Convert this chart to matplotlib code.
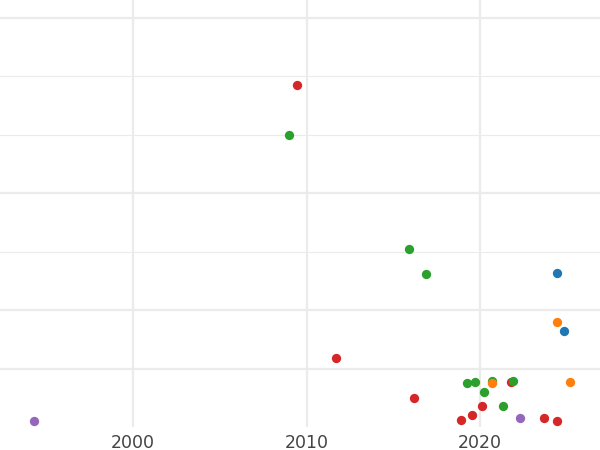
import matplotlib
matplotlib.use("Agg")
import matplotlib.pyplot as plt

purple_x = [1994.3, 2022.3]
purple_y = [0.10, 0.15]
red_x = [2009.45, 2011.7, 2016.2, 2018.9, 2019.5, 2020.1, 2021.8, 2023.7, 2024.4]
red_y = [5.85, 1.18, 0.50, 0.12, 0.21, 0.36, 0.77, 0.15, 0.10]
green_x = [2009.0, 2015.9, 2016.9, 2019.25, 2019.7, 2020.2, 2020.7, 2021.3, 2021.9]
green_y = [4.99, 3.04, 2.62, 0.75, 0.77, 0.60, 0.79, 0.36, 0.79]
orange_x = [2020.7, 2024.4, 2025.2]
orange_y = [0.75, 1.79, 0.77]
blue_x = [2024.4, 2024.8]
blue_y = [2.63, 1.64]

fig = plt.figure(figsize=(6, 4.5), dpi=100)
ax = fig.add_axes([0, 23/450, 1, 427/450])
ax.set_xlim(1992.33, 2026.9)
ax.set_ylim(0, 7.3)

for v in [2000, 2010, 2020]:
    ax.axvline(v, color='#ebebeb', lw=1.6, zorder=0)
for v in [1, 2, 4, 7]:
    ax.axhline(v, color='#ebebeb', lw=1.6, zorder=0)
for v in [3, 5, 6]:
    ax.axhline(v, color='#ebebeb', lw=0.8, zorder=0)

for xs, ys, c in [(purple_x, purple_y, '#9467bd'), (red_x, red_y, '#d62728'),
                  (green_x, green_y, '#2ca02c'), (orange_x, orange_y, '#ff7f0e'),
                  (blue_x, blue_y, '#1f77b4')]:
    ax.scatter(xs, ys, s=45, color=c, zorder=3, linewidths=0)

ax.set_xticks([2000, 2010, 2020])
ax.set_yticks([])
ax.tick_params(axis='x', length=0, labelsize=12.5, labelcolor='#444444', pad=5)
for s in ax.spines.values():
    s.set_visible(False)

fig.savefig('out.png', dpi=100)
